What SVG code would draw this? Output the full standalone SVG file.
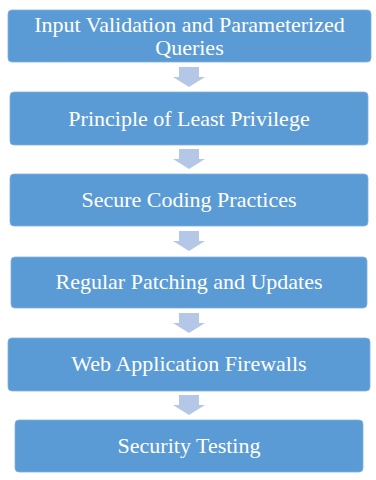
<svg xmlns="http://www.w3.org/2000/svg" width="376" height="480" viewBox="0 0 376 480">
<style>
.box{fill:#5B9BD5;stroke:#7FB0DE;stroke-width:0.8}
.t{font-family:"Liberation Serif","Times New Roman",serif;font-size:22px;fill:#fff;text-anchor:middle}
.arr{fill:#B4C7E7}
</style>
<defs>
<path id="a" d="M-10,0 H10 V10 H16 L0,20 L-16,10 H-10 Z"/>
</defs>
<rect width="376" height="480" fill="#fff"/>
<g id="connectors">
<use href="#a" class="arr" x="189" y="67"/>
<use href="#a" class="arr" x="189" y="149"/>
<use href="#a" class="arr" x="189" y="231"/>
<use href="#a" class="arr" x="189" y="313"/>
<use href="#a" class="arr" x="189" y="395"/>
</g>
<g id="n1"><rect class="box" x="8" y="10" width="363" height="52" rx="4"/><text class="t" x="189.5" y="32">Input Validation and Parameterized</text><text class="t" x="189.5" y="55">Queries</text></g>
<g id="n2"><rect class="box" x="10" y="92" width="358" height="53" rx="4"/><text class="t" x="189" y="126">Principle of Least Privilege</text></g>
<g id="n3"><rect class="box" x="10" y="174" width="358" height="52" rx="4"/><text class="t" x="189" y="207">Secure Coding Practices</text></g>
<g id="n4"><rect class="box" x="11" y="257" width="356" height="51" rx="4"/><text class="t" x="189" y="289">Regular Patching and Updates</text></g>
<g id="n5"><rect class="box" x="8" y="338" width="362" height="53" rx="4"/><text class="t" x="189" y="371">Web Application Firewalls</text></g>
<g id="n6"><rect class="box" x="15" y="420" width="348" height="52" rx="4"/><text class="t" x="189" y="453">Security Testing</text></g>
</svg>
